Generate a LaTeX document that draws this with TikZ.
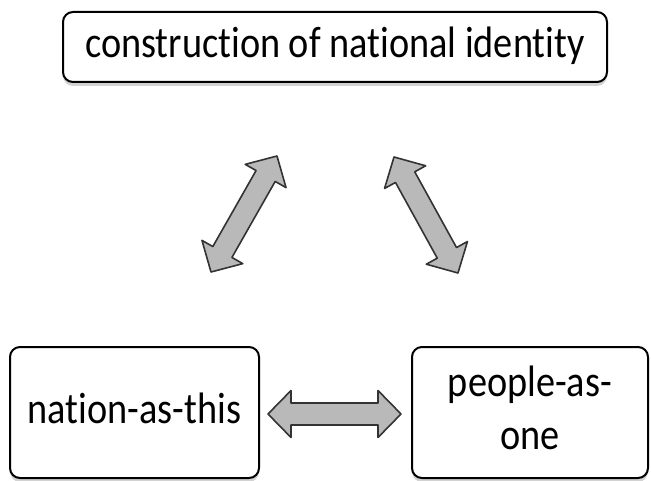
\documentclass[tikz,border=0pt]{standalone}
\usepackage{fontspec}
\setmainfont[Ligatures=NoCommon]{Carlito}
\usetikzlibrary{calc,shadows}
\tikzset{
  box/.style={draw=black, line width=2pt, rounded corners=10pt, fill=white,
    drop shadow={shadow xshift=0pt, shadow yshift=-4pt, fill=gray!35, opacity=1},
    inner sep=0pt, align=center},
  arr/.style={draw=black!80, line width=1.6pt, fill=gray!55, line join=round},
}
\newcommand{\boxtext}[1]{\scalebox{0.87}[1]{\fontsize{44}{53}\selectfont\begin{tabular}{@{}c@{}}#1\end{tabular}}}
\newcommand{\dblarrow}[2]{%
  \path let \p1=($(#1)!23pt!(#2)$), \p2=($(#2)!23pt!(#1)$) in
    coordinate (t1) at (\p1) coordinate (t2) at (\p2);
  \draw[arr] (#1) -- ($(t1)!23.5pt!90:(#2)$) -- ($(t1)!11pt!90:(#2)$)
    -- ($(t2)!11pt!-90:(#1)$) -- ($(t2)!23.5pt!-90:(#1)$) -- (#2)
    -- ($(t2)!23.5pt!90:(#1)$) -- ($(t2)!11pt!90:(#1)$)
    -- ($(t1)!11pt!-90:(#2)$) -- ($(t1)!23.5pt!-90:(#2)$) -- cycle;}
\begin{document}
\begin{tikzpicture}[x=1pt,y=-1pt]
\useasboundingbox (0,0) rectangle (651,481);
\node[box, minimum width=544pt, minimum height=70pt] (top) at (335,47)
  {\boxtext{construction of national identity}};
\node[box, minimum width=249pt, minimum height=131pt] (left) at (134.5,412.5)
  {\boxtext{nation-as-this}};
\node[box, minimum width=236pt, minimum height=131pt] (right) at (530,412.5)
  {\boxtext{people-as-\\one}};
\coordinate (l1) at (211,272);
\coordinate (l2) at (277,156);
\coordinate (r1) at (394,157);
\coordinate (r2) at (458,273);
\coordinate (h1) at (268,414);
\coordinate (h2) at (401,414);
\dblarrow{l1}{l2}
\dblarrow{r1}{r2}
\dblarrow{h1}{h2}
\end{tikzpicture}
\end{document}
